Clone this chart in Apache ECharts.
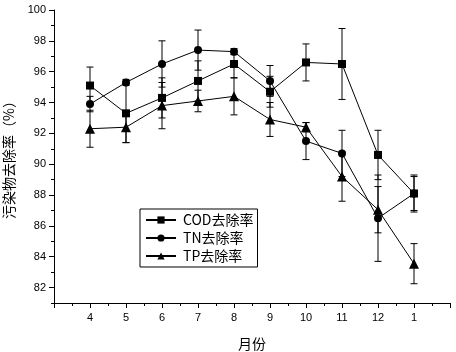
<!DOCTYPE html>
<html>
<head>
<meta charset="utf-8">
<script src="https://cdn.jsdelivr.net/npm/echarts@6/dist/echarts.min.js"></script>
<style>
  html, body { margin: 0; padding: 0; background: #fff; }
  #chart { width: 456px; height: 352px; }
</style>
</head>
<body>
<div id="chart"></div>
<script>
// 月份（4月到次年1月）
const monthLabels = ['4', '5', '6', '7', '8', '9', '10', '11', '12', '1'];
const xPos = [4, 5, 6, 7, 8, 9, 10, 11, 12, 13];

const codRate = [95.1, 93.3, 94.3, 95.4, 96.5, 94.7, 96.6, 96.5, 90.6, 88.1];
const codErr  = [1.2, 1.9, 1.3, 1.3, 0.9, 1.0, 1.2, 2.3, 1.6, 1.2];
const tnRate  = [93.9, 95.3, 96.5, 97.4, 97.3, 95.4, 91.5, 90.7, 86.5, 88.1];
const tnErr   = [0.5, 0.2, 1.5, 1.3, 0.2, 1.0, 1.2, 1.5, 2.8, 1.1];
const tpRate  = [92.3, 92.4, 93.8, 94.1, 94.4, 92.9, 92.4, 89.2, 87.05, 83.55];
const tpErr   = [1.2, 1.0, 1.5, 0.7, 1.2, 1.1, 0.3, 1.6, 1.5, 1.3];

const yMajor = [82, 84, 86, 88, 90, 92, 94, 96, 98, 100];
const yMinor = [81, 83, 85, 87, 89, 91, 93, 95, 97, 99];

const labelFont = 'Liberation Sans, Arial, sans-serif';
const cjkFont = 'Noto Sans CJK SC, sans-serif';

const toPoints = (vals) => vals.map((v, i) => [xPos[i], v]);
const toErr = (vals, errs) => vals.map((v, i) => [xPos[i], v - errs[i], v + errs[i]]);

function renderErr(params, api) {
  const x = api.value(0);
  const lo = api.coord([x, api.value(1)]);
  const hi = api.coord([x, api.value(2)]);
  const w = 3.5;
  const st = { stroke: '#000', lineWidth: 1 };
  return {
    type: 'group',
    children: [
      { type: 'line', shape: { x1: lo[0], y1: lo[1], x2: hi[0], y2: hi[1] }, style: st },
      { type: 'line', shape: { x1: lo[0] - w, y1: lo[1], x2: lo[0] + w, y2: lo[1] }, style: st },
      { type: 'line', shape: { x1: hi[0] - w, y1: hi[1], x2: hi[0] + w, y2: hi[1] }, style: st }
    ]
  };
}

const errSeries = (vals, errs) => ({
  type: 'custom',
  renderItem: renderErr,
  data: toErr(vals, errs),
  encode: { x: 0, y: [1, 2] },
  silent: true,
  z: 1
});

const lineSeries = (name, vals, symbol, size) => ({
  name: name,
  type: 'line',
  data: toPoints(vals),
  symbol: symbol,
  symbolSize: size,
  itemStyle: { color: '#000' },
  lineStyle: { color: '#000', width: 1 },
  z: 3
});

const chart = echarts.init(document.getElementById('chart'), null, { renderer: 'canvas' });
chart.setOption({
  animation: false,
  backgroundColor: '#fff',
  grid: { left: 54, right: 6, top: 10, bottom: 49, outerBoundsMode: 'none' },
  legend: {
    data: ['COD去除率', 'TN去除率', 'TP去除率'],
    orient: 'vertical',
    left: 140,
    top: 209,
    itemWidth: 30,
    itemHeight: 9,
    itemGap: 4,
    padding: [4, 4, 4, 5],
    borderColor: '#000',
    borderWidth: 1,
    borderRadius: 0,
    textStyle: { fontFamily: cjkFont, fontSize: 14, color: '#000', padding: [0, 0, 0, 2] }
  },
  xAxis: {
    type: 'value',
    min: 3,
    max: 14,
    interval: 1,
    name: '月份',
    nameLocation: 'middle',
    nameGap: 34,
    nameTextStyle: { fontFamily: cjkFont, fontSize: 14, color: '#000' },
    axisLine: { lineStyle: { color: '#000', width: 1 } },
    axisTick: { length: 5, lineStyle: { color: '#000' } },
    minorTick: { show: true, splitNumber: 2, length: 3, lineStyle: { color: '#000' } },
    splitLine: { show: false },
    axisLabel: {
      color: '#000',
      fontFamily: labelFont,
      fontSize: 11,
      margin: 9,
      formatter: (v) => {
        const i = xPos.indexOf(v);
        return i >= 0 ? monthLabels[i] : '';
      }
    }
  },
  yAxis: [
    {
      type: 'value',
      min: 81,
      max: 100,
      name: '污染物去除率（%）',
      nameLocation: 'middle',
      nameGap: 38,
      nameTextStyle: { fontFamily: cjkFont, fontSize: 14, color: '#000' },
      axisLine: { show: true, lineStyle: { color: '#000', width: 1 } },
      axisTick: { show: true, length: 5, customValues: yMajor, lineStyle: { color: '#000' } },
      axisLabel: { customValues: yMajor, color: '#000', fontFamily: labelFont, fontSize: 11, margin: 8 },
      splitLine: { show: false }
    },
    {
      type: 'value',
      min: 81,
      max: 100,
      position: 'left',
      axisLine: { show: false },
      axisTick: { show: true, length: 3, customValues: yMinor, lineStyle: { color: '#000' } },
      axisLabel: { show: false },
      splitLine: { show: false }
    }
  ],
  series: [
    errSeries(codRate, codErr),
    errSeries(tnRate, tnErr),
    errSeries(tpRate, tpErr),
    lineSeries('COD去除率', codRate, 'rect', 8),
    lineSeries('TN去除率', tnRate, 'circle', 8),
    lineSeries('TP去除率', tpRate, 'triangle', 10)
  ]
});
</script>
</body>
</html>
